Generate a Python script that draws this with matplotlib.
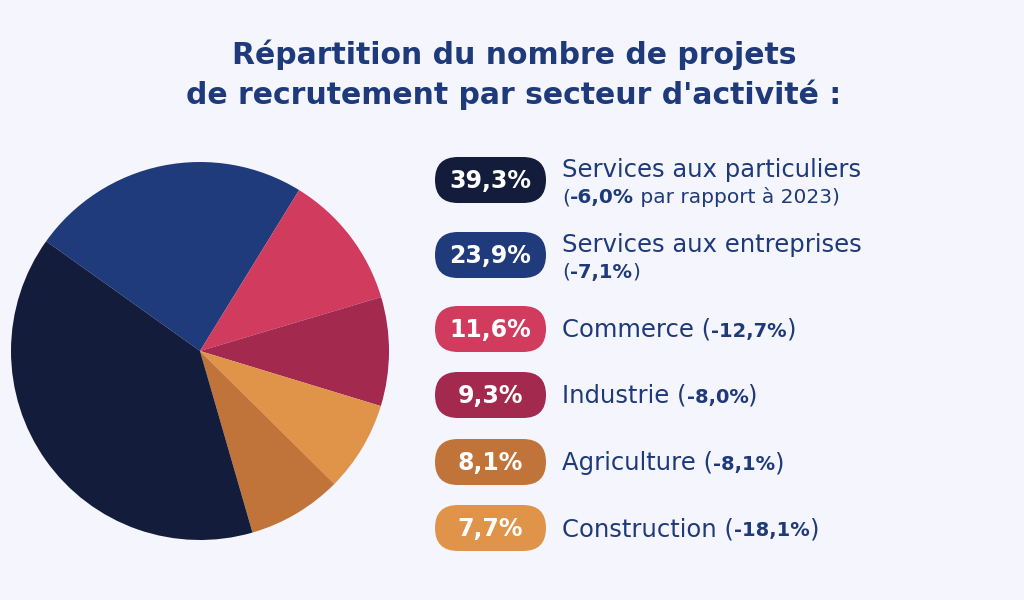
import matplotlib as mpl
from matplotlib import pyplot as plt
from matplotlib.patches import FancyBboxPatch


sectors = ["Services aux particuliers", "Services aux entreprises", "Commerce",
           "Industrie", "Agriculture", "Construction"]
shares = [39.3, 23.9, 11.6, 9.3, 8.1, 7.7]
share_labels = ["39,3%", "23,9%", "11,6%", "9,3%", "8,1%", "7,7%"]
changes = ["-6,0%", "-7,1%", "-12,7%", "-8,0%", "-8,1%", "-18,1%"]
colors = ["#131d3b", "#1f3b7b", "#d03b5e", "#a3294f", "#c07439", "#e0944a"]

# clockwise order of the slices, starting at the upper left
pie_order = [1, 2, 3, 5, 4, 0]

bg = "#f4f5fd"
txt_col = "#1f3a7a"
mpl.rcParams['font.family'] = ['DejaVu Sans']

fig = plt.figure(figsize=(10.24, 6), dpi=100, facecolor=bg)

# full-figure axes in pixel coordinates for the text and badges
ax = fig.add_axes([0, 0, 1, 1])
ax.set_xlim(0, 1024)
ax.set_ylim(600, 0)
ax.axis("off")

# pie
pax = fig.add_axes([11/1024, 60/600, 378/1024, 378/600])
pax.pie([shares[i] for i in pie_order], colors=[colors[i] for i in pie_order],
        startangle=144.5, counterclock=False, radius=1,
        wedgeprops=dict(linewidth=0))
pax.set_xlim(-1, 1)
pax.set_ylim(-1, 1)
pax.set_aspect("equal")

ax.text(514, 64, "Répartition du nombre de projets", ha="center", va="baseline",
        fontsize=21.5, fontweight="bold", color=txt_col)
ax.text(514, 104, "de recrutement par secteur d'activité :", ha="center", va="baseline",
        fontsize=21.5, fontweight="bold", color=txt_col)

renderer = fig.canvas.get_renderer()


def run_text(x, y, parts):
    # parts: list of (string, fontsize, weight) drawn one after the other on a baseline
    for s, size, weight in parts:
        t = ax.text(x, y, s, ha="left", va="baseline", fontsize=size,
                    fontweight=weight, color=txt_col)
        bb = t.get_window_extent(renderer)
        x = ax.transData.inverted().transform((bb.x1, bb.y0))[0]


badge_y = [180, 255, 329, 395, 462, 528]

for i in range(len(sectors)):
    y = badge_y[i]
    box = FancyBboxPatch((435, y - 23), 111, 46,
                         boxstyle="round,pad=0,rounding_size=23",
                         fc=colors[i], ec="none")
    ax.add_patch(box)
    ax.text(490.5, y + 1, share_labels[i], ha="center", va="center", color="white",
            fontsize=17, fontweight="bold")

    if i == 0:
        ax.text(562, y - 3, sectors[i], ha="left", va="baseline", fontsize=17.5,
                color=txt_col)
        run_text(562, y + 23, [("(", 14.5, "normal"), (changes[i], 14.5, "bold"),
                               (" par rapport à 2023)", 14.5, "normal")])
    elif i == 1:
        ax.text(562, y - 3, sectors[i], ha="left", va="baseline", fontsize=17.5,
                color=txt_col)
        run_text(562, y + 23, [("(", 14.5, "normal"), (changes[i], 14, "bold"),
                               (")", 14.5, "normal")])
    else:
        run_text(562, y + 8, [(sectors[i] + " (", 17.5, "normal"),
                              (changes[i], 14, "bold"), (")", 17.5, "normal")])

plt.savefig("out.png", dpi=100, facecolor=bg)
